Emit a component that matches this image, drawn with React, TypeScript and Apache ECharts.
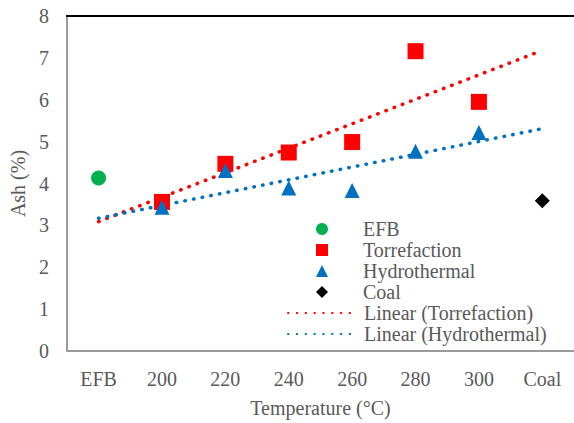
import React, { useEffect, useRef } from "react";
import * as echarts from "echarts";

const categories = ["EFB", "200", "220", "240", "260", "280", "300", "Coal"];
const efbValues: [string, number][] = [["EFB", 4.13]];
const torrCats = ["200", "220", "240", "260", "280", "300"];
const torrValues = [3.56, 4.47, 4.74, 4.99, 7.16, 5.95];
const hydroValues = [3.43, 4.31, 3.89, 3.83, 4.77, 5.22];
const coalValues: [string, number][] = [["Coal", 3.59]];
// trend line end points: [category position, value]
const torrTrend: [number, number][] = [[0, 3.09], [6.9, 7.12]];
const hydroTrend: [number, number][] = [[0, 3.17], [6.97, 5.3]];

const FONT = "Times New Roman, Liberation Serif, DejaVu Serif, serif";
const GRAY = "#595959";

export default function App() {
  const ref = useRef<HTMLDivElement>(null);
  useEffect(() => {
    if (!ref.current) return;
    const chart = echarts.init(ref.current, undefined, { renderer: "svg" });
    const dotted = (color: string) => ({
      color,
      width: 3.5,
      type: [0.5, 8.3] as number[],
      cap: "round" as const,
    });
    const label = { fontFamily: FONT, fontSize: 20, color: GRAY, fontWeight: "normal" as const };
    chart.setOption({
      animation: false,
      backgroundColor: "#fff",
      textStyle: { fontFamily: FONT },
      grid: { left: 64, top: 16, width: 513, height: 337, containLabel: false },
      legend: [
        {
          orient: "vertical",
          left: 316,
          top: 219,
          padding: 0,
          itemWidth: 12,
          itemHeight: 12,
          itemGap: 1,
          itemStyle: { opacity: 1 },
          textStyle: { ...label, padding: [0, 0, 0, 30] },
          data: ["EFB", "Torrefaction", "Hydrothermal", "Coal"],
        },
        {
          orient: "vertical",
          left: 287,
          top: 303,
          padding: 0,
          itemWidth: 64,
          itemHeight: 12,
          itemGap: 1,
          itemStyle: { opacity: 0 },
          textStyle: { ...label, padding: [0, 0, 0, 7] },
          data: ["Linear (Torrefaction)", "Linear (Hydrothermal)"],
        },
      ],
      xAxis: [
        {
          type: "category",
          data: categories,
          boundaryGap: true,
          position: "bottom",
          name: "Temperature (°C)",
          nameLocation: "middle",
          nameGap: 47,
          nameTextStyle: label,
          axisLine: { show: true, lineStyle: { color: "#9a9a9a", width: 2 } },
          axisTick: { show: false },
          axisLabel: { ...label, margin: 18 },
          splitLine: { show: false },
        },
        {
          type: "value",
          min: -0.5,
          max: 7.5,
          position: "top",
          show: true,
          axisLine: { show: true, onZero: false, lineStyle: { color: "#000", width: 2 } },
          axisTick: { show: false },
          axisLabel: { show: false },
          splitLine: { show: false },
        },
      ],
      yAxis: {
        type: "value",
        min: 0,
        max: 8,
        interval: 1,
        name: "Ash (%)",
        nameLocation: "middle",
        nameGap: 36,
        nameTextStyle: label,
        axisLine: { show: true, onZero: false, lineStyle: { color: "#9a9a9a", width: 2 } },
        axisTick: { show: false },
        axisLabel: { ...label, margin: 18 },
        splitLine: { show: false },
      },
      series: [
        {
          name: "Linear (Torrefaction)",
          type: "line",
          xAxisIndex: 1,
          data: torrTrend,
          symbol: "none",
          lineStyle: dotted("#ff0000"),
          itemStyle: { color: "#ff0000" },
          z: 1,
        },
        {
          name: "Linear (Hydrothermal)",
          type: "line",
          xAxisIndex: 1,
          data: hydroTrend,
          symbol: "none",
          lineStyle: dotted("#0070c0"),
          itemStyle: { color: "#0070c0" },
          z: 1,
        },
        {
          name: "EFB",
          type: "scatter",
          symbol: "circle",
          symbolSize: 15,
          itemStyle: { color: "#00b050", opacity: 1 },
          data: efbValues,
          z: 3,
        },
        {
          name: "Torrefaction",
          type: "scatter",
          symbol: "rect",
          symbolSize: 16,
          itemStyle: { color: "#ff0000", opacity: 1 },
          data: torrCats.map((c, i) => [c, torrValues[i]]),
          z: 3,
        },
        {
          name: "Hydrothermal",
          type: "scatter",
          symbol: "triangle",
          symbolSize: 15,
          itemStyle: { color: "#0070c0", opacity: 1 },
          data: torrCats.map((c, i) => [c, hydroValues[i]]),
          z: 4,
        },
        {
          name: "Coal",
          type: "scatter",
          symbol: "diamond",
          symbolSize: 15,
          itemStyle: { color: "#000000", opacity: 1 },
          data: coalValues,
          z: 3,
        },
      ],
    });
    return () => chart.dispose();
  }, []);
  return (
    <div
      ref={ref}
      style={{ position: "fixed", left: 0, top: 0, width: 574, height: 423, background: "#fff" }}
    />
  );
}
